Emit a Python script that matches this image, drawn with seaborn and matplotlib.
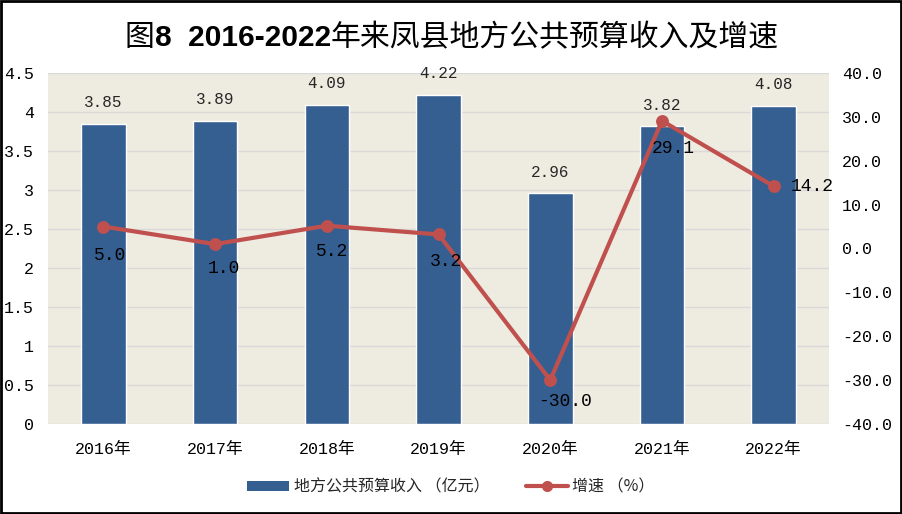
import matplotlib
matplotlib.use("Agg")
import matplotlib.pyplot as plt
import seaborn as sns
import pandas as pd
import numpy as np
from matplotlib.patches import Rectangle, Patch
from matplotlib.lines import Line2D

years = ["2016年", "2017年", "2018年", "2019年", "2020年", "2021年", "2022年"]
revenue = [3.85, 3.89, 4.09, 4.22, 2.96, 3.82, 4.08]
growth = [5.0, 1.0, 5.2, 3.2, -30.0, 29.1, 14.2]
left_ticks = [0, 0.5, 1, 1.5, 2, 2.5, 3, 3.5, 4, 4.5]
right_ticks = [-40, -30, -20, -10, 0, 10, 20, 30, 40]
title_parts = ["图", "8  2016-2022", "年来凤县地方公共预算收入及增速"]
bar_name = "地方公共预算收入 （亿元）"
line_name = "增速 （%）"

sns.set_theme(style="white")
plt.rcParams['font.family'] = ['Noto Sans CJK SC', 'DejaVu Sans']

BAR_C = "#365F91"
LINE_C = "#C0504D"
BG = "#EEEBE0"
NUM_FONT = ['Liberation Mono', 'Noto Sans CJK SC']

df = pd.DataFrame({"year": years, "revenue": revenue, "growth": growth})

fig = plt.figure(figsize=(9.03, 5.14), dpi=100)
L, R, T, B = 47.6, 829.5, 73, 424
ax = fig.add_axes([L/903, 1-B/514, (R-L)/903, (B-T)/514])
ax.set_facecolor(BG)

sns.barplot(data=df, x="year", y="revenue", color=BAR_C, width=0.40,
            saturation=1, ax=ax, zorder=2)
ax.set_ylim(0, 4.5)
ax.set_yticks(left_ticks)
ax.set_yticklabels([f"{t:g}" for t in left_ticks], fontfamily=NUM_FONT, fontsize=12)
ax.yaxis.grid(True, color="#D9D9D9", linewidth=1)
ax.set_axisbelow(True)
ax.set_xlabel("")
ax.set_ylabel("")
for s in ax.spines.values():
    s.set_visible(False)
ax.tick_params(axis='y', length=0, pad=10, colors='black')
ax.tick_params(axis='x', length=0, pad=13, colors='black')
for lbl in ax.get_xticklabels():
    lbl.set_fontsize(12)
    lbl.set_fontfamily(NUM_FONT)

for i, v in enumerate(revenue):
    ax.annotate(f"{v:.2f}", (i, v), xytext=(0, 21),
                textcoords='offset pixels', ha='center', va='center',
                fontsize=11.5, color="#262626", fontfamily=NUM_FONT)

ax2 = ax.twinx()
sns.pointplot(data=df, x="year", y="growth", color=LINE_C, ax=ax2,
              markers="o", markersize=7, linewidth=3, zorder=3)
ax2.set_xlim(-0.5, 6.5)
ax.set_xlim(-0.5, 6.5)
ax2.set_ylim(-40, 40)
ax2.set_yticks(right_ticks)
ax2.set_yticklabels([f"{t:.1f}" for t in right_ticks], fontfamily=NUM_FONT, fontsize=12)
ax2.set_ylabel("")
ax2.set_xlabel("")
for s in ax2.spines.values():
    s.set_visible(False)
ax2.tick_params(axis='both', length=0, pad=9, colors='black')

offsets = [(7, -29), (9, -24), (5, -26), (7, -27), (15, -21), (11, -28), (39, 0)]
for i, (v, off) in enumerate(zip(growth, offsets)):
    ax2.annotate(f"{v:.1f}", (i, v), xytext=off,
                 textcoords='offset pixels', ha='center', va='center',
                 fontsize=13, color="black", fontfamily=NUM_FONT, zorder=5)

# Title: CJK in medium weight, digits bold
styles = [dict(fontfamily=['Noto Sans CJK SC'], fontweight='medium'),
          dict(fontfamily=['Liberation Sans', 'Noto Sans CJK SC'], fontweight='bold'),
          dict(fontfamily=['Noto Sans CJK SC'], fontweight='medium')]
renderer = fig.canvas.get_renderer()
texts = []
widths = []
for part, st in zip(title_parts, styles):
    t = fig.text(0, 1-38/514, part, ha='left', va='center', fontsize=21.5, color='black', **st)
    bb = t.get_window_extent(renderer)
    texts.append(t)
    widths.append(bb.width)
total = sum(widths)
x = 452 - total/2
for t, w in zip(texts, widths):
    t.set_x(x/903)
    x += w

handles = [Patch(facecolor=BAR_C, edgecolor='none'),
           Line2D([0], [0], color=LINE_C, lw=3, marker='o', markersize=7)]
fig.legend(handles, [bar_name, line_name], loc='center', bbox_to_anchor=(451/903, 1-487/514),
           ncol=2, frameon=False, fontsize=11.5, handlelength=2.6, handleheight=0.6,
           columnspacing=2.3, handletextpad=0.3)

fig.patches.append(Rectangle((0.001, 0.002), 0.997, 0.996, transform=fig.transFigure,
                             fill=False, edgecolor='black', linewidth=2))

fig.savefig("out.png", dpi=100)
